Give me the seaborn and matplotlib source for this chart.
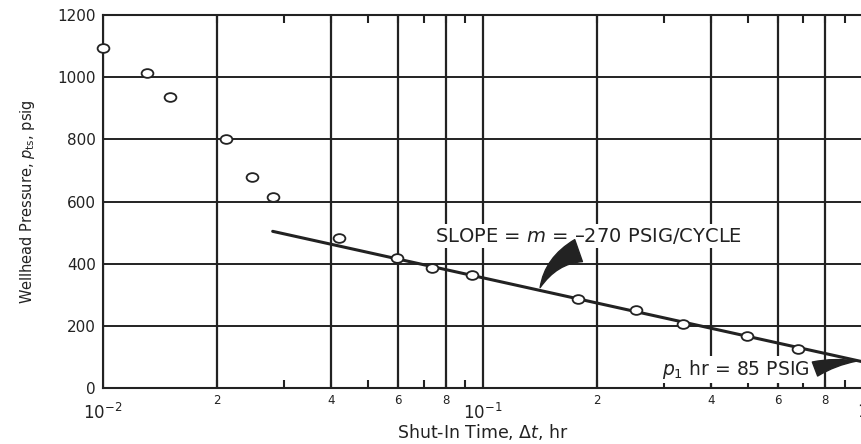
import numpy as np
import matplotlib
matplotlib.use('Agg')
import matplotlib.pyplot as plt
import seaborn as sns
from matplotlib.path import Path
from matplotlib.ticker import FixedLocator, FuncFormatter

# data
shut_in_time = [0.0100, 0.0131, 0.0150, 0.0211, 0.0247, 0.0280, 0.0418, 0.0594,
                0.0738, 0.0936, 0.178, 0.253, 0.338, 0.497, 0.679]
wellhead_pressure = [1094, 1013, 936, 801, 679, 614, 483, 418,
                     386, 363, 286, 251, 206, 167, 125]

slope_m = -270          # psig per log cycle
p_1hr = 85              # psig
fit_range = [0.028, 1.0]

y_ticks = [0, 200, 400, 600, 800, 1000, 1200]
decades = [0.01, 0.1, 1.0]
decade_labels = [r'$\mathregular{10^{-2}}$', r'$\mathregular{10^{-1}}$', '1']
grid_mults = [2, 4, 6, 8]

sns.set_theme(style='white')
plt.rcParams['font.family'] = ['DejaVu Sans']
plt.rcParams['mathtext.fontset'] = 'custom'
plt.rcParams['mathtext.rm'] = 'DejaVu Sans'
plt.rcParams['mathtext.it'] = 'DejaVu Sans:italic'

ink = '#222222'

fig = plt.figure(figsize=(8.61, 4.44), dpi=100)
ax = fig.add_axes([0.1196, 0.126, 0.8816, 0.840])

# fitted semilog straight line
fit_t = np.array(fit_range)
fit_p = p_1hr + slope_m * np.log10(fit_t)
sns.lineplot(x=fit_t, y=fit_p, color=ink, linewidth=2.2, ax=ax, zorder=4)

# slightly wide open circles, like the scanned original
oval = Path(Path.unit_circle().vertices * [1.35, 1.0], Path.unit_circle().codes)
sns.scatterplot(x=shut_in_time, y=wellhead_pressure, marker=oval, s=72,
                facecolor='white', edgecolor=ink, linewidth=1.3, ax=ax,
                zorder=5, clip_on=False)

ax.set_xscale('log')
ax.set_xlim(decades[0], decades[-1])
ax.set_ylim(y_ticks[0], y_ticks[-1])

# grid lines
for d in decades[:-1]:
    for k in grid_mults:
        ax.axvline(d * k, color=ink, lw=1.6, zorder=1)
    ax.axvline(d, color=ink, lw=1.6, zorder=1)
for y in y_ticks[1:-1]:
    ax.axhline(y, color=ink, lw=1.4, zorder=1)

# ticks
ax.set_yticks(y_ticks)
ax.xaxis.set_major_locator(FixedLocator(decades))
ax.set_xticklabels(decade_labels)
minor_pos = [d * k for d in decades[:-1] for k in range(2, 10)]
ax.xaxis.set_minor_locator(FixedLocator(minor_pos))


def minor_fmt(v, pos):
    k = int(round(v / 10 ** np.floor(np.log10(v) + 1e-9)))
    return str(k) if k in grid_mults else ''


ax.xaxis.set_minor_formatter(FuncFormatter(minor_fmt))
ax.tick_params(axis='x', which='major', direction='in', length=0, pad=11,
               labelsize=12, colors=ink)
ax.tick_params(axis='x', which='minor', direction='in', length=6, width=1.5,
               pad=4, labelsize=8.5, top=True, bottom=True, colors=ink)
ax.tick_params(axis='y', which='major', length=0, pad=5, labelsize=11, colors=ink)

for side in ['left', 'bottom', 'top']:
    ax.spines[side].set_color(ink)
    ax.spines[side].set_linewidth(1.5)
ax.spines['right'].set_visible(False)

ax.set_xlabel(r'Shut-In Time, $\Delta t$, hr', fontsize=12.5, color=ink, va='top')
ax.xaxis.set_label_coords(0.5, -0.092)
ax.set_ylabel(r'Wellhead Pressure, $p_{\mathregular{ts}}$, psig', fontsize=10.5,
              color=ink)
ax.yaxis.set_label_coords(-0.087, 0.5)

# annotations
box = dict(facecolor='white', edgecolor='none', pad=1.5)
ax.text(0.075, 489, r'SLOPE = $m$ = –270 PSIG/CYCLE', fontsize=14, color=ink,
        ha='left', va='center', bbox=box, zorder=6)
ax.annotate('', xy=(0.141, p_1hr + slope_m * np.log10(0.141)), xytext=(0.182, 445),
            arrowprops=dict(arrowstyle='wedge,tail_width=1.4,shrink_factor=0.5',
                            fc=ink, ec=ink, connectionstyle='arc3,rad=0.25'),
            zorder=6)

ax.text(0.725, 60, r'$p_1$ hr = 85 PSIG', fontsize=13.5, color=ink,
        ha='right', va='center', bbox=box, zorder=6)
ax.annotate('', xy=(0.985, p_1hr + slope_m * np.log10(0.985)), xytext=(0.74, 58),
            arrowprops=dict(arrowstyle='wedge,tail_width=0.9,shrink_factor=0.5',
                            fc=ink, ec=ink, connectionstyle='arc3,rad=-0.1'),
            zorder=6)

fig.savefig('out.png', dpi=100)
